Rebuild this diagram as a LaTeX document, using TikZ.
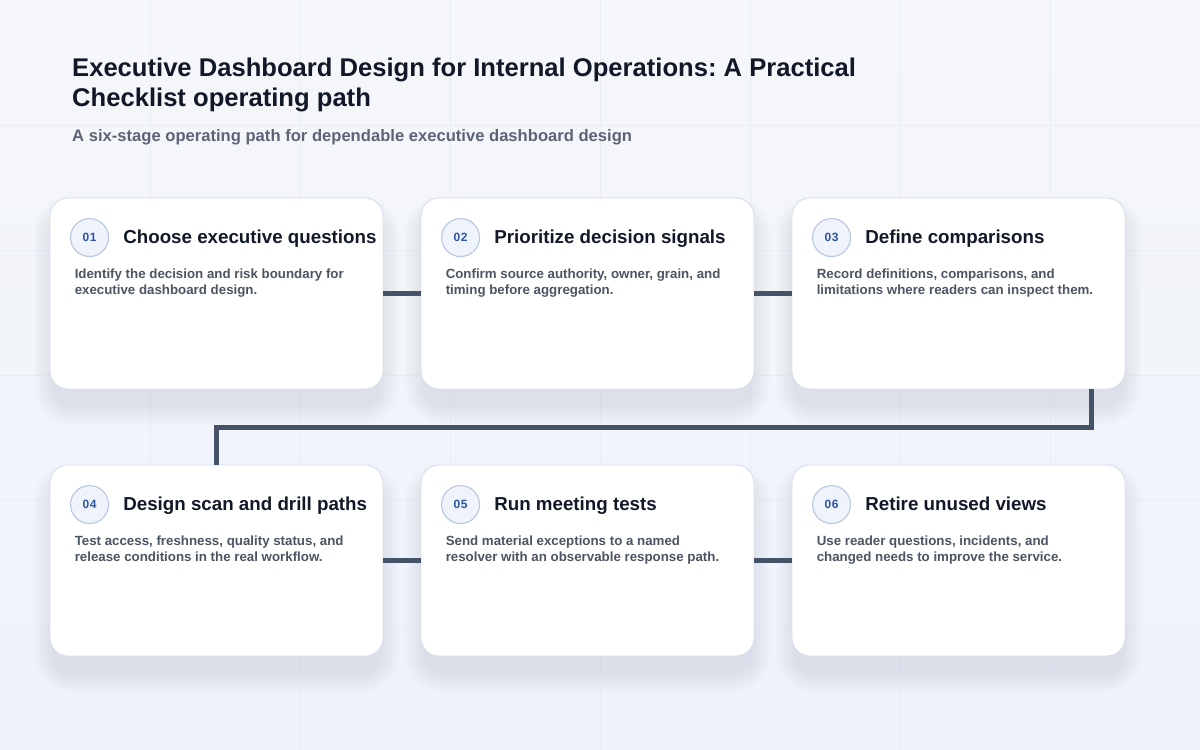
\documentclass[tikz,border=0pt]{standalone}
\usepackage{fontspec}
\setmainfont{Liberation Sans}
\usetikzlibrary{positioning}
\frenchspacing
\definecolor{ink}{HTML}{111827}
\definecolor{muted}{HTML}{4B5563}
\definecolor{subtext}{HTML}{5B6475}
\definecolor{linkc}{HTML}{465267}
\definecolor{cardborder}{HTML}{D9DFEA}
\definecolor{badgefill}{HTML}{EEF3FC}
\definecolor{badgeborder}{HTML}{B8C7E4}
\definecolor{badgetext}{HTML}{2E54A3}
\definecolor{bgtop}{HTML}{F6F7FA}
\definecolor{bgbottom}{HTML}{EDF2FB}
\definecolor{gridc}{HTML}{EAEEF4}
\definecolor{shadowc}{HTML}{9AA8C2}

\begin{document}
\begin{tikzpicture}[x=1pt, y=-1pt,
    card/.style={rectangle, draw=cardborder, line width=0.9pt, fill=white, rounded corners=18pt, minimum width=333pt, minimum height=191pt, inner sep=0pt},
    badge/.style={circle, draw=badgeborder, line width=1.1pt, fill=badgefill, minimum size=38pt, inner sep=0pt, text=badgetext, font=\bfseries\fontsize{12}{14}\selectfont\addfontfeature{LetterSpace=6}},
    heading/.style={anchor=base west, inner sep=0pt, text=ink, font=\bfseries\fontsize{18.75}{22}\selectfont},
    body/.style={anchor=north west, inner sep=0pt, align=left, text=muted, font=\bfseries\fontsize{13.3}{15.7}\selectfont},
    link/.style={draw=linkc, line width=4.2pt}
]
    \useasboundingbox (0,0) rectangle (1200,750);
    \shade[top color=bgtop, bottom color=bgbottom] (0,0) rectangle (1200,750);
    \foreach \gx in {150,300,...,1050} \draw[gridc, line width=0.7pt] (\gx,0) -- (\gx,750);
    \foreach \gy in {125,250,...,625} \draw[gridc, line width=0.7pt] (0,\gy) -- (1200,\gy);

    \node[anchor=north west, inner sep=0pt, align=left, text=ink, font=\bfseries\fontsize{25.6}{30}\selectfont] (title) at (72,58) {Executive Dashboard Design for Internal Operations: A Practical\\Checklist operating path};
    \node[anchor=north west, inner sep=0pt, text=subtext, font=\bfseries\fontsize{16.6}{19}\selectfont] (subtitle) at (72,129.5) {A six-stage operating path for dependable executive dashboard design};

    \foreach \cx/\cy in {216.5/293.5, 587.5/293.5, 958.5/293.5, 216.5/560.5, 587.5/560.5, 958.5/560.5}
      \foreach \s in {2,4,...,20} {
        \pgfmathsetmacro{\rr}{18+\s}
        \fill[shadowc, opacity=0.022, rounded corners=\rr pt] (\cx-166.5-\s+4,\cy-95.5-\s+18) rectangle (\cx+166.5+\s-4,\cy+95.5+\s+16);
      }

    \node[card] (c1) at (216.5,293.5) {};
    \node[card] (c2) at (587.5,293.5) {};
    \node[card] (c3) at (958.5,293.5) {};
    \node[card] (c4) at (216.5,560.5) {};
    \node[card] (c5) at (587.5,560.5) {};
    \node[card] (c6) at (958.5,560.5) {};

    \draw[link] (c1.east) -- (c2.west);
    \draw[link] (c2.east) -- (c3.west);
    \draw[link] ([xshift=133pt]c3.south) -- ++(0,38) -| (c4.north);
    \draw[link] (c4.east) -- (c5.west);
    \draw[link] (c5.east) -- (c6.west);

    \node[badge] (b1) at ([shift={(40pt,-40pt)}]c1.north west) {01};
    \node[heading] (h1) at ([shift={(14pt,-6.3pt)}]b1.east) {Choose executive questions};
    \node[body] (t1) at ([shift={(25pt,-71.5pt)}]c1.north west) {Identify the decision and risk boundary for\\executive dashboard design.};

    \node[badge] (b2) at ([shift={(40pt,-40pt)}]c2.north west) {02};
    \node[heading] (h2) at ([shift={(14pt,-6.3pt)}]b2.east) {Prioritize decision signals};
    \node[body] (t2) at ([shift={(25pt,-71.5pt)}]c2.north west) {Confirm source authority, owner, grain, and\\timing before aggregation.};

    \node[badge] (b3) at ([shift={(40pt,-40pt)}]c3.north west) {03};
    \node[heading] (h3) at ([shift={(14pt,-6.3pt)}]b3.east) {Define comparisons};
    \node[body] (t3) at ([shift={(25pt,-71.5pt)}]c3.north west) {Record definitions, comparisons, and\\limitations where readers can inspect them.};

    \node[badge] (b4) at ([shift={(40pt,-40pt)}]c4.north west) {04};
    \node[heading] (h4) at ([shift={(14pt,-6.3pt)}]b4.east) {Design scan and drill paths};
    \node[body] (t4) at ([shift={(25pt,-71.5pt)}]c4.north west) {Test access, freshness, quality status, and\\release conditions in the real workflow.};

    \node[badge] (b5) at ([shift={(40pt,-40pt)}]c5.north west) {05};
    \node[heading] (h5) at ([shift={(14pt,-6.3pt)}]b5.east) {Run meeting tests};
    \node[body] (t5) at ([shift={(25pt,-71.5pt)}]c5.north west) {Send material exceptions to a named\\resolver with an observable response path.};

    \node[badge] (b6) at ([shift={(40pt,-40pt)}]c6.north west) {06};
    \node[heading] (h6) at ([shift={(14pt,-6.3pt)}]b6.east) {Retire unused views};
    \node[body] (t6) at ([shift={(25pt,-71.5pt)}]c6.north west) {Use reader questions, incidents, and\\changed needs to improve the service.};
\end{tikzpicture}
\end{document}
